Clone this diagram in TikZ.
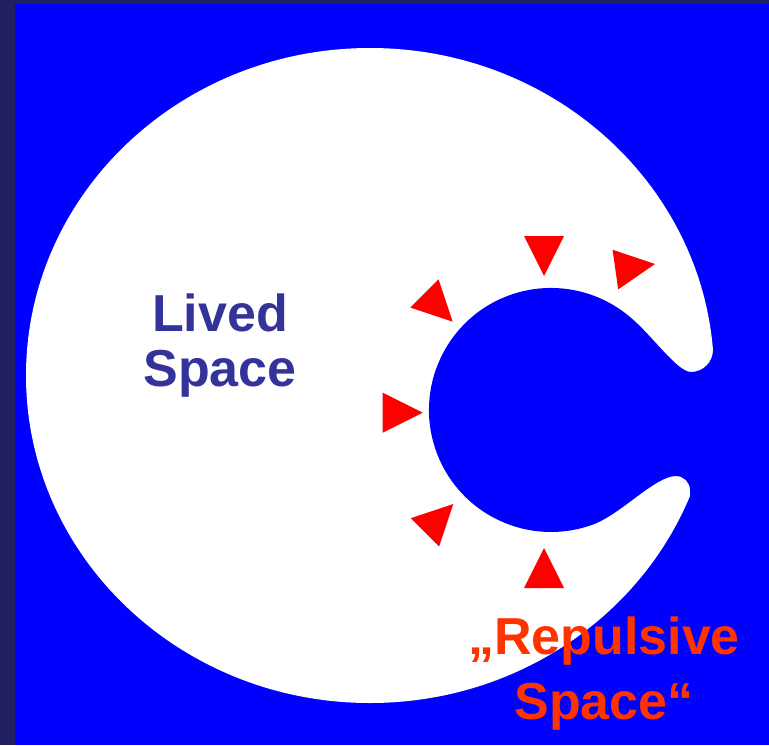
\documentclass[tikz,border=0pt]{standalone}
\usepackage{fontspec}
\setmainfont{Liberation Sans}
\usetikzlibrary{calc}
\definecolor{SpaceBlue}{RGB}{0,0,255}
\definecolor{FrameNavy}{RGB}{32,32,96}
\definecolor{LivedInk}{RGB}{51,51,153}
\definecolor{RepulsiveInk}{RGB}{255,51,0}
\definecolor{PushRed}{RGB}{255,0,0}
\tikzset{
  livedlabel/.style={text=LivedInk, font=\bfseries\fontsize{52}{55}\selectfont,
                align=center, inner sep=0pt},
  repulsivelabel/.style={text=RepulsiveInk, font=\bfseries\fontsize{52}{65}\selectfont,
                align=center, inner sep=0pt},
  % one filled wedge, apex at the origin, pointing along +x
  pushmark/.style={fill=PushRed},
}
\begin{document}
\begin{tikzpicture}[x=1pt,y=-1pt]
  \useasboundingbox (0,0) rectangle (769,745);

  % --- Fundo ------------------------------------------------------------------
  \fill[FrameNavy] (0,0) rectangle (769,745);
  \fill[SpaceBlue] (15,4) rectangle (769,745);

  % --- Lived space with the repulsive hollow cut out --------------------------
  \fill[white] (370,375.5) ellipse [x radius=344, y radius=327.5];
  \fill[SpaceBlue] (629.4,316.5) .. controls (652,335) and (677,372) .. (691,372)
     arc[start angle=90, end angle=0, radius=22] -- (713,300) -- (780,300)
     -- (780,520) -- (690,520) -- (690,490)
     arc[start angle=0, end angle=-90, radius=14]
     .. controls (655,476) and (621,514.4) .. (592.7,524.6)
     arc[start angle=70, end angle=310, radius=122] -- cycle;

  % --- Wedges pressing on the hollow ------------------------------------------
  \foreach \ax/\ay/\rot in {544/276/-90, 655/264/8, 452.7/321.7/-45,
                            422.7/412.7/0, 453.3/504/45, 544/548/90}
    \fill[pushmark, shift={(\ax,\ay)}, rotate=\rot] (0,0) -- (-40,-20) -- (-40,20) -- cycle;

  % --- Labels -----------------------------------------------------------------
  \node[livedlabel]     (lived)     at (220,346) {Lived\\Space};
  \node[repulsivelabel] (repulsive) at (604,674) {„Repulsive\\Space“};

\end{tikzpicture}
\end{document}
